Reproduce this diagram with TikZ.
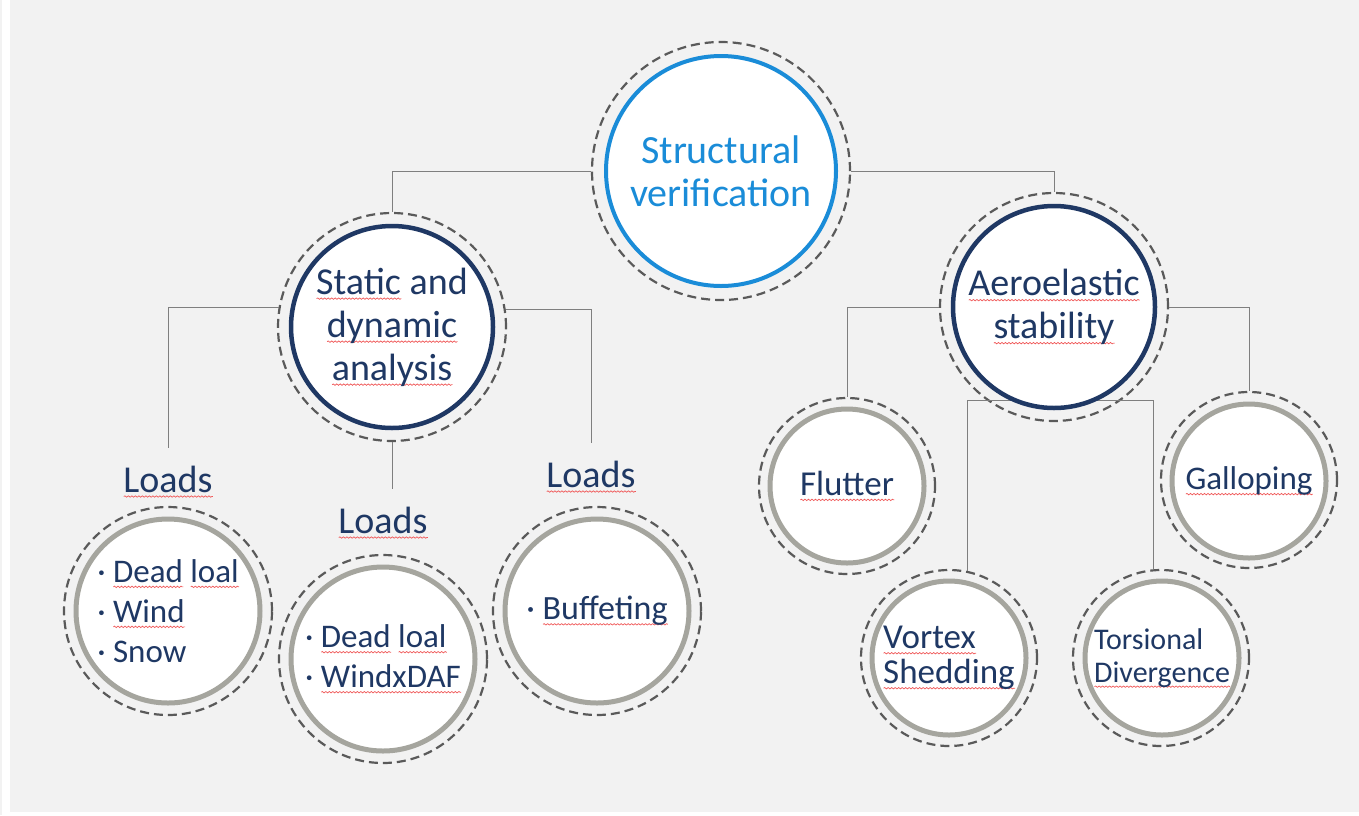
\documentclass[tikz,border=0pt]{standalone}
\usepackage{fontspec}
\setmainfont{Carlito}
\usetikzlibrary{calc,decorations.pathmorphing}
\definecolor{bggray}{HTML}{F2F2F2}
\definecolor{navy}{HTML}{1F3864}
\definecolor{vblue}{HTML}{1A8CD8}
\definecolor{ringgray}{HTML}{A5A59E}
\definecolor{dashgray}{HTML}{5A5A5A}
\definecolor{linegray}{HTML}{7F7F7F}
\definecolor{squig}{HTML}{F05858}
\newsavebox\sqbox
\newcommand\sq[1]{\sbox\sqbox{#1}\rlap{\tikz[baseline=0pt,x=1pt,y=1pt]\draw[draw=squig,line width=0.7pt,solid,decorate,decoration={snake,amplitude=0.7pt,segment length=3.5pt}] (0,-4.5) -- (\the\wd\sqbox,-4.5);}\usebox\sqbox}
\tikzset{
  conn/.style={draw=linegray, line width=1pt},
  dring/.style={circle, draw=dashgray, line width=2.2pt, dash pattern=on 9pt off 5pt, minimum size=#1, inner sep=0pt},
  bcirc/.style={circle, draw=vblue, fill=white, line width=4pt, minimum size=#1, inner sep=0pt, text=vblue, align=center},
  ncirc/.style={circle, draw=navy, fill=white, line width=4.5pt, minimum size=#1, inner sep=0pt, text=navy, align=center},
  gcirc/.style={circle, draw=ringgray, fill=white, line width=5pt, minimum size=#1, inner sep=0pt, text=navy, align=center},
  loadlbl/.style={anchor=base, text=navy, inner xsep=2pt, inner ysep=17pt, font=\fontsize{38}{42}\selectfont},
}
\begin{document}
\begin{tikzpicture}[x=1pt,y=-1pt]
\useasboundingbox (0,0) rectangle (1359,815);
\fill[white] (0,0) rectangle (1359,815);
\fill[bggray] (0,0) rectangle (2,815);
\fill[bggray] (10,0) rectangle (1359,812);

% dashed outer rings
\node[dring=258] (svd) at (721,171) {};
\node[dring=228] (sdad) at (392,327) {};
\node[dring=228] (aed) at (1054,307) {};
\node[dring=208] (l1d) at (168,611) {};
\node[dring=208] (l2d) at (383,659) {};
\node[dring=208] (l3d) at (597,611) {};
\node[dring=176] (fld) at (847,486) {};
\node[dring=176] (gad) at (1249,480) {};
\node[dring=176] (vod) at (949,658) {};
\node[dring=176] (tod) at (1161,658) {};

% labels
\node[loadlbl] (ld1) at (168,492) {\sq{Loads}};
\node[loadlbl] (ld2) at (383,533) {\sq{Loads}};
\node[loadlbl] (ld3) at (591,487) {\sq{Loads}};

% connectors
\draw[conn] (svd.west) -| (sdad.north);
\draw[conn] (svd.east) -| (aed.north);
\draw[conn] (sdad.170.5) -| (ld1.north);
\draw[conn] (sdad.9.5) -| (ld3.north);
\draw[conn] (sdad.south) -- (sdad.south |- ld2.north);
\draw[conn] (aed.west) -| (fld.north);
\draw[conn] (aed.east) -| (gad.north);
\coordinate (brk) at (1060,400);
\draw[conn] (vod.78) |- (brk) -| (tod.95);

% main circles
\node[bcirc=230, font=\fontsize{40}{44}\selectfont] (sv) at (721,171) {Structural\\[-1pt]verification};
\node[ncirc=202, font=\fontsize{38}{43}\selectfont] (sda) at (392,327) {\sq{Static} and\\\sq{dynamic}\\\sq{analysis}};
\node[ncirc=202, font=\fontsize{38}{43}\selectfont] (ae) at (1054,307) {\sq{Aeroelastic}\\\sq{stability}};

\node[gcirc=184, align=left, font=\fontsize{33}{40}\selectfont] (l1) at (168,611) {· \sq{Dead} \sq{loal}\\· \sq{Wind}\\· Snow};
\node[gcirc=184, align=left, font=\fontsize{33}{40}\selectfont] (l2) at (383,659) {· \sq{Dead} \sq{loal}\\· \sq{WindxDAF}};
\node[gcirc=184, align=left, font=\fontsize{34}{40}\selectfont] (l3) at (597,611) {· \sq{Buffeting}};

\node[gcirc=154, font=\fontsize{35}{40}\selectfont] (fl) at (847,486) {\sq{Flutter}};
\node[gcirc=154, font=\fontsize{33}{40}\selectfont] (ga) at (1249,481) {\sq{Galloping}};
\node[gcirc=154, align=left, font=\fontsize{35}{35}\selectfont] (vo) at (949,658) {\sq{Vortex}\\\sq{Shedding}};
\node[gcirc=154, align=left, font=\fontsize{30}{33}\selectfont] (to) at (1162,658) {Torsional\\\sq{Divergence}};
\end{tikzpicture}
\end{document}
